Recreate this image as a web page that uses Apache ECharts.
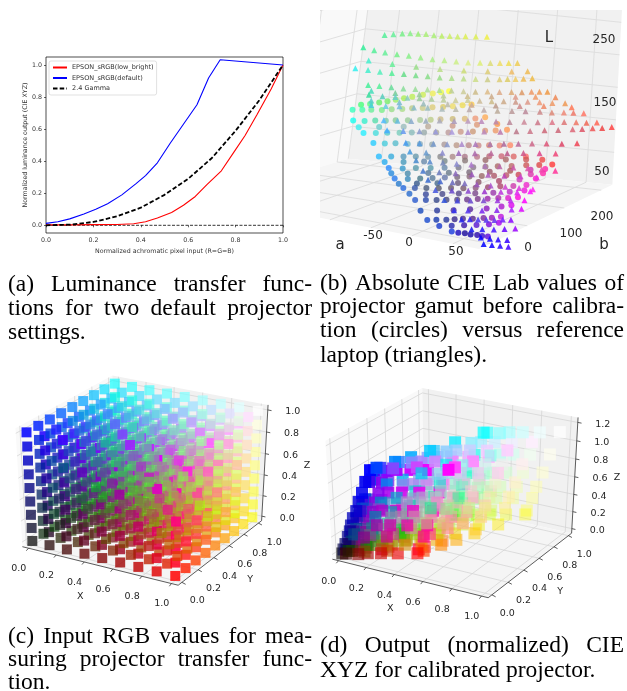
<!DOCTYPE html>
<html><head><meta charset="utf-8">
<style>html,body{margin:0;background:#fff}#c{width:627px;height:691px}</style>
<script src="https://cdn.jsdelivr.net/npm/echarts@6/dist/echarts.min.js"></script></head>
<body><div id="c"></div>
<script>
// ---------- (a) values
const redX=[0,.1,.2,.3,.37,.42,.47,.53,.58,.63,.68,.74,.79,.84,.89,.95,1];
const redY=[.003,.003,.004,.005,.01,.022,.045,.08,.125,.18,.255,.34,.45,.56,.69,.85,1];
const blueX=[0,.05,.1,.16,.21,.26,.32,.38,.42,.47,.524,.637,.686,.735,1];
const blueY=[.012,.022,.04,.07,.1,.135,.19,.26,.31,.39,.512,.752,.919,1.033,1];
const gammaX=[0,.1,.2,.3,.4,.5,.6,.7,.8,.9,1];
const gammaY=[0,.004,.021,.056,.11,.19,.29,.42,.59,.78,1];
const zeroX=[0,1], zeroY=[0,0];
const unitTicks=[0,.2,.4,.6,.8,1];
// ---------- (c) input RGB cube levels
const rgbLevels=[0,.125,.25,.375,.5,.625,.75,.875,1];
// ---------- (d) output XYZ, estimated by eye and from the panel's corner colours: [X,Y,Z,colour]
const xyzOut=[
[0,0,0,'000'],[.02,.01,0,'400'],[.09,.04,0,'800'],[.21,.11,.01,'c00'],[.41,.21,.02,'f00'],
[.02,.04,.01,'040'],[.04,.05,.01,'440'],[.11,.08,.01,'840'],[.23,.15,.02,'c40'],[.43,.25,.03,'f40'],
[.08,.15,.03,'080'],[.10,.16,.03,'480'],[.17,.19,.03,'880'],[.29,.26,.04,'c80'],[.49,.36,.05,'f80'],
[.19,.37,.06,'0c0'],[.21,.38,.06,'4c0'],[.28,.41,.06,'8c0'],[.40,.48,.07,'cc0'],[.60,.58,.08,'fc0'],
[.36,.72,.12,'0f0'],[.38,.73,.12,'4f0'],[.45,.76,.12,'8f0'],[.57,.83,.13,'cf0'],[.77,.93,.14,'ff0'],
[.01,0,.05,'004'],[.03,.01,.05,'404'],[.10,.04,.05,'804'],[.22,.11,.06,'c04'],[.42,.21,.07,'f04'],
[.03,.04,.06,'044'],[.05,.05,.06,'444'],[.12,.08,.06,'844'],[.24,.15,.07,'c44'],[.44,.25,.08,'f44'],
[.09,.15,.08,'084'],[.11,.16,.08,'484'],[.18,.19,.08,'884'],[.30,.26,.09,'c84'],[.50,.36,.10,'f84'],
[.20,.37,.11,'0c4'],[.22,.38,.11,'4c4'],[.29,.41,.11,'8c4'],[.41,.48,.12,'cc4'],[.61,.58,.13,'fc4'],
[.37,.72,.17,'0f4'],[.39,.73,.17,'4f4'],[.46,.76,.17,'8f4'],[.58,.83,.18,'cf4'],[.78,.93,.19,'ff4'],
[.04,.01,.20,'008'],[.06,.02,.20,'408'],[.13,.05,.20,'808'],[.25,.12,.21,'c08'],[.45,.22,.22,'f08'],
[.06,.05,.21,'048'],[.08,.06,.21,'448'],[.15,.09,.21,'848'],[.27,.16,.22,'c48'],[.47,.26,.23,'f48'],
[.12,.16,.23,'088'],[.14,.17,.23,'488'],[.21,.20,.23,'888'],[.33,.27,.24,'c88'],[.53,.37,.25,'f88'],
[.23,.38,.26,'0c8'],[.25,.39,.26,'4c8'],[.32,.42,.26,'8c8'],[.44,.49,.27,'cc8'],[.64,.59,.28,'fc8'],
[.40,.73,.32,'0f8'],[.42,.74,.32,'4f8'],[.49,.77,.32,'8f8'],[.61,.84,.33,'cf8'],[.81,.94,.34,'ff8'],
[.09,.04,.49,'00c'],[.11,.05,.49,'40c'],[.18,.08,.49,'80c'],[.30,.15,.50,'c0c'],[.50,.25,.51,'f0c'],
[.11,.08,.50,'04c'],[.13,.09,.50,'44c'],[.20,.12,.50,'84c'],[.32,.19,.51,'c4c'],[.52,.29,.52,'f4c'],
[.17,.19,.52,'08c'],[.19,.20,.52,'48c'],[.26,.23,.52,'88c'],[.38,.30,.53,'c8c'],[.58,.40,.54,'f8c'],
[.28,.41,.55,'0cc'],[.30,.42,.55,'4cc'],[.37,.45,.55,'8cc'],[.49,.52,.56,'ccc'],[.69,.62,.57,'fcc'],
[.45,.76,.61,'0fc'],[.47,.77,.61,'4fc'],[.54,.80,.61,'8fc'],[.66,.87,.62,'cfc'],[.86,.97,.63,'ffc'],
[.18,.07,.95,'00f'],[.20,.08,.95,'40f'],[.27,.11,.95,'80f'],[.39,.18,.96,'c0f'],[.59,.28,.97,'f0f'],
[.20,.11,.96,'04f'],[.22,.12,.96,'44f'],[.29,.15,.96,'84f'],[.41,.22,.97,'c4f'],[.61,.32,.98,'f4f'],
[.26,.22,.98,'08f'],[.28,.23,.98,'48f'],[.35,.26,.98,'88f'],[.47,.33,.99,'c8f'],[.67,.43,1,'f8f'],
[.37,.44,1.01,'0cf'],[.39,.45,1.01,'4cf'],[.46,.48,1.01,'8cf'],[.58,.55,1.02,'ccf'],[.78,.65,1.03,'fcf'],
[.54,.79,1.07,'0ff'],[.56,.80,1.07,'4ff'],[.63,.83,1.07,'8ff'],[.75,.90,1.08,'cff'],[.95,1,1.09,'fff']];
const xyzOutMid=[
[.14,.07,.01,'a00'],[.30,.16,.01,'e00'],[.22,.22,.04,'a80'],[.38,.31,.04,'e80'],[.33,.44,.07,'ac0'],[.49,.53,.07,'ec0'],[.50,.79,.13,'af0'],[.66,.88,.13,'ef0'],
[.13,.25,.04,'0a0'],[.22,.29,.04,'8a0'],[.27,.32,.05,'aa0'],[.34,.36,.05,'ca0'],[.43,.41,.05,'ea0'],[.54,.46,.06,'fa0'],
[.27,.53,.09,'0e0'],[.36,.57,.09,'8e0'],[.41,.60,.10,'ae0'],[.48,.64,.10,'ce0'],[.57,.69,.10,'ee0'],[.68,.74,.11,'fe0'],
[.18,.08,.21,'a08'],[.34,.17,.21,'e08'],[.26,.23,.24,'a88'],[.42,.32,.24,'e88'],[.37,.45,.27,'ac8'],[.53,.54,.27,'ec8'],[.54,.80,.33,'af8'],[.70,.89,.33,'ef8'],
[.17,.26,.24,'0a8'],[.26,.30,.24,'8a8'],[.31,.33,.25,'aa8'],[.38,.37,.25,'ca8'],[.47,.42,.25,'ea8'],[.58,.47,.26,'fa8'],
[.31,.54,.29,'0e8'],[.40,.58,.29,'8e8'],[.45,.61,.30,'ae8'],[.52,.65,.30,'ce8'],[.61,.70,.30,'ee8'],[.72,.75,.31,'fe8'],
[.23,.11,.50,'a0c'],[.39,.20,.50,'e0c'],[.31,.26,.53,'a8c'],[.47,.35,.53,'e8c'],[.42,.48,.56,'acc'],[.58,.57,.56,'ecc'],[.59,.83,.62,'afc'],[.75,.92,.62,'efc'],
[.22,.29,.53,'0ac'],[.31,.33,.53,'8ac'],[.36,.36,.54,'aac'],[.43,.40,.54,'cac'],[.52,.45,.54,'eac'],[.63,.50,.55,'fac'],
[.36,.57,.58,'0ec'],[.45,.61,.58,'8ec'],[.50,.64,.59,'aec'],[.57,.68,.59,'cec'],[.66,.73,.59,'eec'],[.77,.78,.60,'fec'],
[.32,.14,.96,'a0f'],[.48,.23,.96,'e0f'],[.40,.29,.99,'a8f'],[.56,.38,.99,'e8f'],[.51,.51,1.02,'acf'],[.67,.60,1.02,'ecf'],[.68,.86,1.08,'aff'],[.84,.95,1.08,'eff'],
[.31,.32,.99,'0af'],[.40,.36,.99,'8af'],[.45,.39,1,'aaf'],[.52,.43,1,'caf'],[.61,.48,1,'eaf'],[.72,.53,1.01,'faf'],
[.45,.60,1.04,'0ef'],[.54,.64,1.04,'8ef'],[.59,.67,1.05,'aef'],[.66,.71,1.05,'cef'],[.75,.76,1.05,'eef'],[.86,.81,1.06,'fef'],
[.06,.02,.33,'00a'],[.15,.06,.33,'80a'],[.20,.09,.34,'a0a'],[.27,.13,.34,'c0a'],[.36,.18,.34,'e0a'],[.47,.23,.35,'f0a'],
[.14,.17,.36,'08a'],[.23,.21,.36,'88a'],[.28,.24,.37,'a8a'],[.35,.28,.37,'c8a'],[.44,.33,.37,'e8a'],[.55,.38,.38,'f8a'],
[.19,.27,.37,'0aa'],[.28,.31,.37,'8aa'],[.33,.34,.38,'aaa'],[.40,.38,.38,'caa'],[.49,.43,.38,'eaa'],[.60,.48,.39,'faa'],
[.25,.39,.39,'0ca'],[.34,.43,.39,'8ca'],[.39,.46,.40,'aca'],[.46,.50,.40,'cca'],[.55,.55,.40,'eca'],[.66,.60,.41,'fca'],
[.33,.55,.42,'0ea'],[.42,.59,.42,'8ea'],[.47,.62,.43,'aea'],[.54,.66,.43,'cea'],[.63,.71,.43,'eea'],[.74,.76,.44,'fea'],
[.42,.74,.45,'0fa'],[.51,.78,.45,'8fa'],[.56,.81,.46,'afa'],[.63,.85,.46,'cfa'],[.72,.90,.46,'efa'],[.83,.95,.47,'ffa'],
[.13,.05,.70,'00e'],[.22,.09,.70,'80e'],[.27,.12,.71,'a0e'],[.34,.16,.71,'c0e'],[.43,.21,.71,'e0e'],[.54,.26,.72,'f0e'],
[.21,.20,.73,'08e'],[.30,.24,.73,'88e'],[.35,.27,.74,'a8e'],[.42,.31,.74,'c8e'],[.51,.36,.74,'e8e'],[.62,.41,.75,'f8e'],
[.26,.30,.74,'0ae'],[.35,.34,.74,'8ae'],[.40,.37,.75,'aae'],[.47,.41,.75,'cae'],[.56,.46,.75,'eae'],[.67,.51,.76,'fae'],
[.32,.42,.76,'0ce'],[.41,.46,.76,'8ce'],[.46,.49,.77,'ace'],[.53,.53,.77,'cce'],[.62,.58,.77,'ece'],[.73,.63,.78,'fce'],
[.40,.58,.79,'0ee'],[.49,.62,.79,'8ee'],[.54,.65,.80,'aee'],[.61,.69,.80,'cee'],[.70,.74,.80,'eee'],[.81,.79,.81,'fee'],
[.49,.77,.82,'0fe'],[.58,.81,.82,'8fe'],[.63,.84,.83,'afe'],[.70,.88,.83,'cfe'],[.79,.93,.83,'efe'],[.90,.98,.84,'ffe']];
const xyzOutDark=[
[.02,.01,.11,'006'],[.04,.02,.11,'406'],[.11,.05,.11,'806'],[.04,.05,.12,'046'],[.06,.06,.12,'446'],[.13,.09,.12,'846'],[.10,.16,.14,'086'],[.12,.17,.14,'486'],[.19,.20,.14,'886'],
[.05,.02,.26,'009'],[.07,.03,.26,'409'],[.14,.06,.26,'809'],[.07,.06,.27,'049'],[.09,.07,.27,'449'],[.16,.10,.27,'849'],
[.07,.03,.41,'00b'],[.09,.04,.41,'40b'],[.16,.07,.41,'80b'],[.09,.07,.42,'04b'],[.11,.08,.42,'44b'],[.18,.11,.42,'84b'],
[.11,.04,.6,'00d'],[.13,.05,.6,'40d'],[.20,.08,.6,'80d'],[.13,.08,.61,'04d'],[.15,.09,.61,'44d'],[.22,.12,.61,'84d'],
[.15,.06,.82,'00e'],[.17,.07,.82,'40e'],[.24,.10,.82,'80e'],[.17,.10,.83,'04e'],[.19,.11,.83,'44e'],[.26,.14,.83,'84e']];
// ---------- (b) Lab rows: [b,[a...],[L...],'colours']
const laptopRows=[
[100,[-157,-146,-135,-125,-115,-105,-95,-85,-75,-65,-55,-42,-28],[226,229,232,234,235,236,236,237,238,239,241,243,245],'5e9 6e9 7e8 8e8 9e7 ae7 ae7 be6 ce6 ce6 de5 de5 ee4'],
[80,[-173,-159,-145,-130,-115,-100,-85,-70,-55,-40,-25,-12,0,11,22],[208,206,205,205,205,205,205,206,207,208,210,212,214,216,218],'3e9 5e9 6e9 7e8 8e8 9e8 ae8 be8 ce8 de8 de7 dd7 ed6 ed5 ec5'],
[70,[-160,-130,-100,-70,-40,-10,20,40],[192,192,193,195,198,202,207,211],'4ec 6e9 9d8 bd8 cd7 dc7 eb6 eb5'],
[60,[-171,-155,-140,-125,-110,-95,-80,-65,-50,-35,-20,-5,10,20,30,40,51],[180,180,180,181,182,183,184,185,187,189,191,193,196,198,200,202,205],'3ee 4ec 5eb 5e9 6d8 7d8 8d8 9d8 ad8 bd8 cd8 cc8 dc7 dc6 ec6 eb5 eb4'],
[40,[-144,-130,-115,-100,-85,-70,-55,-40,-25,-10,5,20,35,48,60,70,80],[163,164,165,166,168,170,172,174,176,178,181,183,186,188,191,193,195],'4e9 5e9 6d9 8d9 9d9 ad9 ad9 bc9 cc9 cb8 db8 da8 da7 d96 e96 e95 e94'],
[30,[-135,-105,-75,-45,-15,15,45,70,95],[158,160,164,168,173,178,183,188,192],'4db 7c9 9c9 bc9 cb8 ca8 d98 e96 e85'],
[20,[-133,-116,-100,-85,-70,-55,-40,-25,-10,5,20,35,50,65,80,96,112],[154,155,157,159,161,163,165,167,170,172,174,177,179,182,184,186,189],'3d9 5cb 6cc 8cb 9c9 ac9 bc9 cc9 cc9 cb9 cb8 ca8 c98 d98 e97 e96 e95'],
[10,[-125,-90,-60,-30,0,30,60,90,125],[149,153,157,162,167,172,177,183,188],'5cc 7bc 9bb bba ca9 b98 c88 e86 f75'],
[0,[-120,-102,-85,-67,-50,-32,-15,2,20,37,55,72,90,105,120,132,145],[145,147,150,152,155,157,160,163,166,168,171,174,177,179,182,184,186],'4cd 6cd 7bd 8bc 9bb abb bba baa baa ba9 b99 b89 c88 d87 e87 e76 f76'],
[-20,[-94,-77,-60,-42,-25,-7,10,27,45,62,80,97,115,130,145,158,171],[131,134,137,141,145,148,152,155,158,161,165,168,172,175,178,180,183],'5bf 6bd 8ac 9ab aab a9b b9b b8b b8a b89 c89 c78 d78 d77 e76 e65 f65'],
[-40,[-80,-60,-40,-20,0,20,40,60,80,97,115,132,150,162,175,187,199],[123,126,130,134,138,142,147,151,156,160,165,169,174,177,181,184,188],'4af 69e 89c 99d a9d a8c b8b b7a b78 c78 c67 c67 d67 d56 e55 e44 f44'],
[-55,[-49,-32,-15,2,20,37,55,72,90,107,125,144,163],[114,117,120,123,127,131,135,139,143,147,151,155,160],'49e 59d 79c 89c a8c a7b a7a a69 b69 c68 d57 d46 e45'],
[-62,[-40,-20,0,20,40,60,80,100,120,140],[104,107,111,115,119,124,128,133,137,141],'49d 69c 88c 96b a6a b69 b58 c58 d48 e47'],
[-70,[-28,-11,5,22,40,57,75,92,110,127,144],[95,97,99,101,104,106,109,111,114,116,118],'48c 58c 78b 88c a7c a7b b6a c5a d5a e4a f39'],
[-78,[-15,5,25,45,65,85,105,125],[84,86,89,92,96,99,103,106],'47c 67b 86b 95b a5b b4b c4c e3d'],
[-85,[-5,10,25,40,55,72,90,107,124],[74,75,77,79,81,83,85,87,89],'36c 46c 66b 76b 95b a5c c4c d3d f2e'],
[-92,[8,28,48,68,88,108,124],[63,67,71,75,79,83,88],'45d 64c 84c 93c b3d d2e f1f'],
[-100,[23,39,55,71,88,104,121],[53,56,60,64,68,72,76],'35d 44d 64c 74c 93d b2e f0f'],
[-105,[38,55,72,90,108,120],[42,46,50,55,60,64],'33e 53e 72e 82e a2f d0f'],
[-110,[50,60,70,80,90,100,110],[32,35,37,39,41,44,46],'22e 32e 43e 53e 63e 72f 80f'],
[-115,[65,78,92,105,118],[22,25,28,32,36],'11e 21f 41f 60f 90f'],
[-120,[79,90,100,111],[14,15,16,18],'00f 10f 20f 30f'],
[-125,[85,95,105,115],[7,8,9,10],'00f 10f 20f 40f']];
const projectorRows=[
[90,[-172,-161,-150,-140,-130,-120,-110,-97,-85,-75,-65],[118,121,125,129,133,137,141,146,150,154,157],'4f7 5f7 6e6 7e6 9e6 ae5 be5 ce5 ee5 ef4 ff3'],
[70,[-173,-161,-150,-137,-125,-112,-100,-87,-75,-62,-50,-38,-27],[114,116,118,120,123,126,129,132,135,138,141,145,148],'3fb 4fa 6e9 7e8 9d8 ad8 bc8 cc8 dc7 dc6 ed6 ed5 fc4'],
[50,[-162,-148,-135,-122,-110,-95,-80,-67,-55,-40,-25,-12,0],[103,105,108,110,113,116,119,122,125,128,131,134,138],'1fe 3ec 5da 7ca 8c9 9c9 ac9 bc8 cb8 cb7 db7 e97 fa5'],
[40,[-150,-125,-95,-65,-35,-5,20],[97,102,108,114,121,128,134],'3ee 6cc 9bb ba9 c98 d97 f94'],
[30,[-139,-124,-110,-95,-80,-65,-50,-35,-20,-5,10,23,37],[92,95,98,101,104,107,110,113,117,120,124,127,131],'2ef 4dd 5cc 7cb 8bb 9aa aa9 b99 c98 c97 d97 e96 f95'],
[10,[-117,-103,-90,-75,-60,-45,-30,-15,0,12,25,38,51],[85,87,90,92,95,97,100,102,105,107,110,112,115],'2cf 4cd 5bc 7bc 8ab 9aa a99 b98 b88 c88 d87 e87 f86'],
[-10,[-100,-85,-70,-55,-40,-25,-10,5,20,35,50,65,80],[72,75,78,81,84,87,90,93,96,100,103,106,109],'2bf 3ad 59b 69a 79a 888 a88 a78 b78 b67 c67 d66 f66'],
[-20,[-88,-65,-40,-15,10,35,60,85,105],[68,73,79,85,91,97,103,108,112],'2ae 49b 68a 788 877 966 a66 c55 e44'],
[-30,[-78,-61,-45,-27,-10,7,25,40,55,72,90,106,122],[63,66,70,74,78,82,86,90,94,98,103,107,111],'28f 39c 59a 59a 68a 778 878 977 a66 b66 c55 d44 f33'],
[-40,[-70,-50,-25,0,25,50,75,100,118],[59,63,69,75,81,87,94,101,106],'28d 48a 579 678 767 956 a55 c3a f2a'],
[-50,[-61,-45,-30,-15,0,15,30,45,60,75,90,105,120],[55,58,62,66,70,74,78,82,86,90,94,98,103],'27e 38b 478 579 67a 767 867 966 a56 b56 c45 d3a f2a'],
[-58,[-52,-30,-5,20,45,70,95,115],[51,56,62,68,75,82,90,96],'27c 358 468 657 856 a46 c3b f1c'],
[-65,[-43,-29,-15,0,15,30,45,60,75,91,107],[48,51,54,57,61,64,68,72,77,81,86],'26d 35a 457 556 656 756 857 946 a46 c3a e2c'],
[-72,[-32,-12,8,28,48,70,90,108],[43,47,52,57,62,68,74,80],'26c 349 448 548 748 93a b2c e1d'],
[-80,[-21,-8,5,17,30,42,55,67,80,92,104],[38,41,44,47,50,53,57,60,64,67,71],'25c 24a 348 447 547 638 738 92a a2a d1c f0d'],
[-88,[-10,10,30,50,70,88,100],[26,31,36,42,48,55,60],'14b 239 429 529 81b a1c d0e'],
[-95,[2,13,25,35,45,57,70,80,91],[16,19,22,25,28,31,35,38,42],'14c 13a 239 328 428 528 729 91b b1d'],
[-102,[20,35,50,65,80,92],[13,17,21,25,30,35],'13c 22a 31a 51c 70d a0e'],
[-110,[39,47,55,62,70,76,83],[11,11,12,12,13,13,14],'13d 10b 109 10a 20a 30c 50d']];
const labA=[-200,-150,-100,-50,0,50], labB=[-100,0,100,200], labL=[50,100,150,200,250];
const zTicksD=[0,.2,.4,.6,.8,1,1.2];
// ---------- captions
const captions=[
 {x0:8,x1:312,lines:[['(a) Luminance transfer func-',285,1],['tions for two default projector',309,1],['settings.',333,0]]},
 {x0:320,x1:624,lines:[['(b) Absolute CIE Lab values of',284,1],['projector gamut before calibra-',307,1],['tion (circles) versus reference',331,1],['laptop (triangles).',356,0]]},
 {x0:8,x1:312,lines:[['(c) Input RGB values for mea-',637,1],['suring projector transfer func-',660,1],['tion.',683,0]]},
 {x0:320,x1:624,lines:[['(d) Output (normalized) CIE',646,1],['XYZ for calibrated projector.',671,0]]}];
const capFont='23.5px "Liberation Serif"';

// ---------- view projection (matplotlib style, elev 30 azim -60, dist 10)
function cam(x,y,z){const rx=x-.5,ry=y-.5,rz=z-.5;
 const d=.433*rx-.75*ry+.5*rz,f=10/(10-d);
 return [(.866*rx+.5*ry)*f,(-.25*rx+.433*ry+.866*rz)*f,d];}
function labCam(a,b,L){const lean=.085-.055*(a+240)/360,s=.16-.00022*(b+130);
 return [.82*a+.37*b+lean*L,-(s*a-.16*b)+.65*L];}
function toHex(v){return Math.round(v*255).toString(16).padStart(2,'0');}

const series=[],grids=[],xA=[],yA=[];
function addHiddenGrid(r){const i=grids.length;grids.push({left:r.left,top:r.top,width:r.w,height:r.h});
 xA.push({type:'value',gridIndex:i,show:false,min:r.x0,max:r.x1,splitLine:{show:false}});
 yA.push({type:'value',gridIndex:i,show:false,min:r.y0,max:r.y1,splitLine:{show:false}});return i;}
function polySeries(gi,rows,colors,z,clip){series.push({type:'custom',xAxisIndex:gi,yAxisIndex:gi,silent:true,z,clip,
 renderItem(p,api){const pts=[];for(let k=0;k<8;k+=2)pts.push(api.coord([api.value(k),api.value(k+1)]));
  return {type:'polygon',shape:{points:pts},style:{fill:colors[p.dataIndex]}};},data:rows});}
function segSeries(gi,rows,color,w,z,clip){series.push({type:'custom',xAxisIndex:gi,yAxisIndex:gi,silent:true,z,clip,
 renderItem(p,api){const a=api.coord([api.value(0),api.value(1)]),b=api.coord([api.value(2),api.value(3)]);
  return {type:'line',shape:{x1:a[0],y1:a[1],x2:b[0],y2:b[1]},style:{stroke:color,lineWidth:w}};},data:rows});}
function textSeries(gi,items,z){series.push({type:'custom',xAxisIndex:gi,yAxisIndex:gi,silent:true,z,clip:false,
 renderItem(p,api){const it=items[p.dataIndex],a=api.coord([api.value(0),api.value(1)]);
  return {type:'text',style:{text:it.t,x:a[0]+it.dx,y:a[1]+it.dy,fill:'#262626',align:'center',verticalAlign:'middle',font:(it.s||10)+'px "DejaVu Sans"'}};},
 data:items.map(i=>[i.u,i.v])});}

// ---------- panel (a)
const p2=(X,Y)=>X.map((x,i)=>[x,Y[i]]);
grids.push({left:46,top:57,width:237,height:176,show:true,borderColor:'#000',borderWidth:.7,backgroundColor:'#fff'});
const tickStyle={show:true,length:2,lineStyle:{color:'#000',width:.6},customValues:unitTicks};
const labelStyle={color:'#333',fontSize:6.3,fontFamily:'DejaVu Sans',margin:4,customValues:unitTicks,formatter:v=>(+v).toFixed(1)};
const nameStyle={color:'#333',fontSize:6.3,fontFamily:'DejaVu Sans'};
xA.push({type:'value',gridIndex:0,min:0,max:1,axisLine:{show:false},axisTick:tickStyle,axisLabel:labelStyle,splitLine:{show:false},
 name:'Normalized achromatic pixel input (R=G=B)',nameLocation:'middle',nameGap:15,nameTextStyle:nameStyle});
yA.push({type:'value',gridIndex:0,min:-.048,max:1.05,axisLine:{show:false},axisTick:tickStyle,axisLabel:labelStyle,splitLine:{show:false},
 name:'Normalized luminance output (CIE XYZ)',nameLocation:'middle',nameGap:18,nameTextStyle:nameStyle});
const ln=(name,data,color,width,type)=>({name,type:'line',xAxisIndex:0,yAxisIndex:0,data,symbol:'none',silent:true,z:3,
 lineStyle:{color,width,type},itemStyle:{color}});
series.push(ln('zero',p2(zeroX,zeroY),'#000',.8,[3,1.5]));
series.push(ln('EPSON_sRGB(low_bright)',p2(redX,redY),'#f00',1.1,'solid'));
series.push(ln('EPSON_sRGB(default)',p2(blueX,blueY),'#00f',1.1,'solid'));
series.push(ln('2.4 Gamma',p2(gammaX,gammaY),'#000',1.8,[4.5,2.2]));

// ---------- 3D panels
function cubeFrame(gi,o){const e=o.e,lo=-e,hi=1+e,P=cam;
 const flat=(...q)=>q.flatMap(v=>P(...v).slice(0,2));
 polySeries(gi,[flat([lo,lo,lo],[lo,hi,lo],[lo,hi,hi],[lo,lo,hi]),flat([lo,hi,lo],[hi,hi,lo],[hi,hi,hi],[lo,hi,hi]),flat([lo,lo,lo],[hi,lo,lo],[hi,hi,lo],[lo,hi,lo])],['#f9f9f9','#f1f1f1','#f5f5f5'],1,false);
 const g=[],ax=[],tx=[];
 const seg=(A,B,L)=>L.push([...P(...A).slice(0,2),...P(...B).slice(0,2)]);
 const zn=o.zTicks.map(v=>v/o.zMax);
 unitTicks.forEach(t=>{seg([t,lo,lo],[t,hi,lo],g);seg([t,hi,lo],[t,hi,hi],g);seg([lo,t,lo],[hi,t,lo],g);seg([lo,t,lo],[lo,t,hi],g);
  seg([t,lo,lo],[t,lo-.025,lo-.01],ax);seg([hi,t,lo],[hi+.025,t,lo-.01],ax);});
 zn.forEach(t=>{seg([lo,lo,t],[lo,hi,t],g);seg([lo,hi,t],[hi,hi,t],g);seg([hi,hi,t],[hi+.025,hi,t],ax);});
 seg([lo,lo,lo],[hi,lo,lo],ax);seg([hi,lo,lo],[hi,hi,lo],ax);seg([hi,hi,lo],[hi,hi,hi],ax);
 segSeries(gi,g,'#d6d6d6',.8,2,false);segSeries(gi,ax,'#333',.8,3,false);
 unitTicks.forEach(t=>{let q=P(t,0,0);tx.push({u:q[0],v:q[1],t:t.toFixed(1),dx:-13.5,dy:28,s:9.5});
  q=P(1,t,0);tx.push({u:q[0],v:q[1],t:t.toFixed(1),dx:22,dy:25,s:9.5});});
 o.zTicks.forEach((t,i)=>{const q=P(1,1,zn[i]);tx.push({u:q[0],v:q[1],t:t.toFixed(1),dx:35,dy:1,s:9.5});});
 let q=P(.5,0,0);tx.push({u:q[0],v:q[1],t:'X',dx:-22,dy:38,s:9.5});
 q=P(1,.5,0);tx.push({u:q[0],v:q[1],t:'Y',dx:35,dy:34,s:9.5});
 q=P(1,1,.5);tx.push({u:q[0],v:q[1],t:'Z',dx:52,dy:0,s:9.5});
 textSeries(gi,tx,4);}
function rgbScatter(gi,pts,size,depthBias,aMin){ // larger depth value = nearer the viewer
 const w=pts.map((p,i)=>({p,c:cam(p[0],p[1],p[2]),k:(i*304)%pts.length/pts.length}));
 const ds=w.map(o=>o.c[2]),mn=Math.min(...ds),mx=Math.max(...ds);
 w.sort((A,B)=>(A.c[2]*depthBias+A.k)-(B.c[2]*depthBias+B.k));
 series.push({type:'scatter',xAxisIndex:gi,yAxisIndex:gi,symbol:'rect',symbolSize:size,silent:true,z:5,clip:false,
  data:w.map(o=>({value:[o.c[0],o.c[1]],itemStyle:{color:o.p[3],opacity:aMin+(.98-aMin)*(o.c[2]-mn)/(mx-mn)}}))});}

// (c)
const gc=addHiddenGrid({left:0,top:352.5,w:310,h:248,x0:-144/165,x1:166/165,y0:-1,y1:1});
cubeFrame(gc,{e:.045,zTicks:unitTicks,zMax:1});
const cubePts=[];
rgbLevels.forEach(r=>rgbLevels.forEach(g=>rgbLevels.forEach(b=>cubePts.push([r,g,b,'#'+toHex(r)+toHex(g)+toHex(b)]))));
rgbScatter(gc,cubePts,10,0,.5);
// (d)
const gd=addHiddenGrid({left:454-165,top:489-124,w:330,h:248,x0:-1,x1:1,y0:-1,y1:1});
cubeFrame(gd,{e:.045,zTicks:zTicksD,zMax:1.2});
rgbScatter(gd,xyzOut.concat(xyzOutMid,xyzOutDark).map(p=>[p[0],p[1],p[2]/1.2,'#'+p[3]]),12,.15,.35);

// (b) clipped panel: axes in view units, 1 unit = 1 px through the grid scale
const gb=addHiddenGrid({left:320,top:10,w:307,h:246,x0:-140,x1:167,y0:-41,y1:205});
(function(){const aL=-240,aH=82,bL=-130,bH=230,lT=300;
 const f=(...q)=>q.flatMap(v=>labCam(...v));
 polySeries(gb,[f([aL,bL,0],[aL,bH,0],[aL,bH,lT],[aL,bL,lT]),f([aL,bH,0],[aH,bH,0],[aH,bH,lT],[aL,bH,lT]),f([aL,bL,0],[aH,bL,0],[aH,bH,0],[aL,bH,0])],['#f9f9f9','#f1f1f1','#f5f5f5'],1,true);
 const g=[];const seg=(A,B)=>g.push([...labCam(...A),...labCam(...B)]);
 labA.forEach(a=>{seg([a,bL,0],[a,bH,0]);seg([a,bH,0],[a,bH,lT]);});
 labB.forEach(b=>{seg([aL,b,0],[aH,b,0]);seg([aL,b,0],[aL,b,lT]);});
 labL.forEach(l=>{seg([aL,bL,l],[aL,bH,l]);seg([aL,bH,l],[aH,bH,l]);});
 seg([aL,bH,0],[aL,bH,lT]);
 segSeries(gb,g,'#dcdcdc',.9,2,true);
 const mk=rows=>rows.flatMap(r=>{const cs=r[3].split(' ');return r[1].map((a,i)=>({value:labCam(a,r[0],r[2][i]),itemStyle:{color:'#'+cs[i]}}));});
 series.push({type:'scatter',xAxisIndex:gb,yAxisIndex:gb,symbol:'circle',symbolSize:6,silent:true,z:5,clip:true,itemStyle:{opacity:.78},data:mk(projectorRows)});
 series.push({type:'scatter',xAxisIndex:gb,yAxisIndex:gb,symbol:'triangle',symbolSize:6,silent:true,z:6,clip:true,itemStyle:{opacity:.85},data:mk(laptopRows)});
})();

// ---------- text of panel (b) and captions
const ctx=document.createElement('canvas').getContext('2d');
const gfx=[];
const txt=(t,x,y,font,fill,align)=>gfx.push({type:'text',x,y,z:20,silent:true,style:{text:t,font,fill:fill||'#000',align:align||'left',verticalAlign:'middle'}});
[['-50',373,236],['0',409,243],['50',456,252],['0',528,248],['100',571,234],['200',602,217],['250',604,40],['150',605,103],['50',602,172]]
 .forEach(r=>txt(r[0],r[1],r[2],'12px "DejaVu Sans"','#262626','center'));
[['a',340,245],['b',604,245],['L',549,38]].forEach(r=>txt(r[0],r[1],r[2],'15px "DejaVu Sans"','#262626','center'));
ctx.font=capFont;
captions.forEach(c=>c.lines.forEach(([s,y,just])=>{
 if(!just){txt(s,c.x0,y,capFont);return;}
 const w=s.split(' '),sum=w.reduce((t,k)=>t+ctx.measureText(k).width,0),gap=(c.x1-c.x0-sum)/(w.length-1);
 let x=c.x0;w.forEach(k=>{txt(k,x,y,capFont);x+=ctx.measureText(k).width+gap;});}));

const chart=echarts.init(document.getElementById('c'),null,{renderer:'canvas'});
chart.setOption({animation:false,backgroundColor:'#fff',grid:grids,xAxis:xA,yAxis:yA,series,graphic:{elements:gfx},
 legend:{show:true,orient:'vertical',left:49,top:61,padding:[3,3],itemGap:3.5,itemWidth:14,itemHeight:7,backgroundColor:'#fff',borderColor:'#ccc',borderWidth:.6,borderRadius:2,z:10,
  itemStyle:{opacity:0},
  textStyle:{fontSize:6.5,color:'#333',fontFamily:'DejaVu Sans'},
  data:['EPSON_sRGB(low_bright)','EPSON_sRGB(default)','2.4 Gamma']}});
</script></body></html>
